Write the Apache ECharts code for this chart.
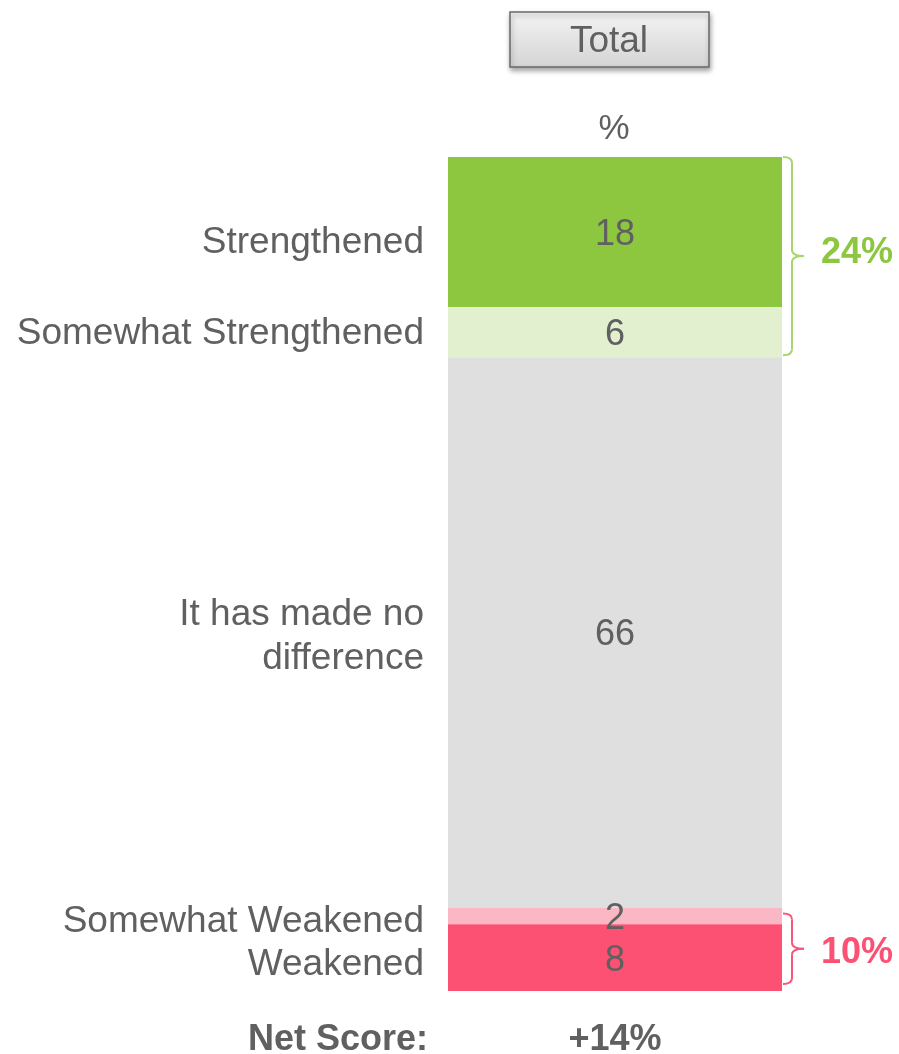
<!DOCTYPE html>
<html>
<head>
<meta charset="utf-8">
<script src="https://cdn.jsdelivr.net/npm/echarts@6/dist/echarts.min.js"></script>
<style>
  html, body { margin: 0; padding: 0; background: #ffffff; }
  #chart { width: 899px; height: 1054px; }
</style>
</head>
<body>
<div id="chart"></div>
<script>
// Survey result: one stacked column, read top to bottom
const categories = ['Total'];
const segmentNames = [
  'Strengthened',
  'Somewhat Strengthened',
  'It has made no\ndifference',
  'Somewhat Weakened',
  'Weakened'
];
const segmentValues = [18, 6, 66, 2, 8];
const positiveGroup = [0, 1];   // indexes summed for the upper bracket
const negativeGroup = [3, 4];   // indexes summed for the lower bracket
const unitLabel = '%';
const netLabel = 'Net Score:';

// Styling
const palette = ['#8DC63F', '#E2F0D0', '#DFDFDF', '#FBB7C4', '#FC5173'];
const nameNudge = [11, 2, 4, 6, 7];   // vertical fine-tuning of row names, px
const textGray = '#606060';
const posColor = '#8DC63F';
const posBracket = '#A9D56F';
const negColor = '#FC5173';
const negBracket = '#F7577A';
const FONT = '"Liberation Sans", Arial, sans-serif';

const chart = echarts.init(document.getElementById('chart'), null, { renderer: 'canvas' });

const valueSeries = segmentNames.map((name, i) => ({
  name: name,
  type: 'bar',
  stack: 'total',
  xAxisIndex: 0,
  yAxisIndex: 0,
  barWidth: '100%',
  data: [segmentValues[i]],
  itemStyle: { color: palette[i] },
  label: {
    show: true,
    position: 'inside',
    formatter: '{c}',
    color: textGray,
    fontFamily: FONT,
    fontSize: 36,
    offset: [0, 3]
  }
}));

// Invisible twin stack that carries the row names to the left of each segment
const nameSeries = segmentNames.map((name, i) => ({
  name: name + ' ',
  type: 'bar',
  stack: 'names',
  xAxisIndex: 1,
  yAxisIndex: 1,
  barWidth: '100%',
  data: [segmentValues[i]],
  itemStyle: { color: 'rgba(0,0,0,0)' },
  label: {
    show: true,
    position: 'left',
    distance: 24,
    offset: [0, nameNudge[i]],
    formatter: () => name,
    color: textGray,
    fontFamily: FONT,
    fontSize: 37,
    lineHeight: 44,
    align: 'right'
  }
}));

chart.setOption({
  animation: false,
  backgroundColor: '#ffffff',
  grid: { left: 448, right: 117, top: 157, bottom: 63, containLabel: false },
  xAxis: [
    { type: 'category', data: categories, show: false },
    { type: 'category', data: categories, show: false }
  ],
  yAxis: [
    { type: 'value', min: 0, max: 100, inverse: true, show: false },
    { type: 'value', min: 0, max: 100, inverse: true, show: false }
  ],
  series: valueSeries.concat(nameSeries)
});

// Brackets and totals placed through the chart's own scales
function sumOf(idx) { return idx.reduce((s, i) => s + segmentValues[i], 0); }
function startOf(i) { let s = 0; for (let k = 0; k < i; k++) s += segmentValues[k]; return s; }

const posTotal = sumOf(positiveGroup);
const negTotal = sumOf(negativeGroup);
const net = posTotal - negTotal;

const gridRect = chart.getModel().getComponent('grid', 0).coordinateSystem.getRect();
const barRight = gridRect.x + gridRect.width;
const barCenterX = gridRect.x + gridRect.width / 2;

function yAt(v) { return chart.convertToPixel({ yAxisIndex: 0 }, v); }

// Curly bracket built from straight segments and quadratic curves
function bracket(y0, y1, x0, x1, x2, r, color) {
  const ym = (y0 + y1) / 2;
  const st = { stroke: color, lineWidth: 2, fill: null };
  return [
    { type: 'bezierCurve', shape: { x1: x0, y1: y0, cpx1: x1, cpy1: y0, x2: x1, y2: y0 + r }, style: st },
    { type: 'line', shape: { x1: x1, y1: y0 + r, x2: x1, y2: ym - r }, style: st },
    { type: 'bezierCurve', shape: { x1: x1, y1: ym - r, cpx1: x1, cpy1: ym, x2: x2, y2: ym }, style: st },
    { type: 'bezierCurve', shape: { x1: x2, y1: ym, cpx1: x1, cpy1: ym, x2: x1, y2: ym + r }, style: st },
    { type: 'line', shape: { x1: x1, y1: ym + r, x2: x1, y2: y1 - r }, style: st },
    { type: 'bezierCurve', shape: { x1: x1, y1: y1 - r, cpx1: x1, cpy1: y1, x2: x0, y2: y1 }, style: st }
  ];
}

const posTop = yAt(startOf(positiveGroup[0]));
const posBottom = yAt(startOf(positiveGroup[0]) + posTotal) - 2;
const negTop = yAt(startOf(negativeGroup[0])) + 6;
const negBottom = yAt(startOf(negativeGroup[0]) + negTotal) - 7;

const bx0 = barRight + 1, bx1 = barRight + 10, bx2 = barRight + 22;

const graphics = [
  // header button
  {
    type: 'rect',
    shape: { x: 510, y: 12, width: 199, height: 55 },
    style: {
      fill: {
        type: 'linear', x: 0, y: 0, x2: 0, y2: 1,
        colorStops: [
          { offset: 0, color: '#F4F4F4' },
          { offset: 1, color: '#D4D4D4' }
        ]
      },
      stroke: '#6A6A6A',
      lineWidth: 1.5,
      shadowBlur: 5,
      shadowOffsetX: 1,
      shadowOffsetY: 3,
      shadowColor: 'rgba(0,0,0,0.35)'
    }
  },
  {
    type: 'text',
    x: 609, y: 42,
    style: {
      text: categories[0],
      fill: textGray,
      font: '37px ' + FONT,
      align: 'center',
      verticalAlign: 'middle'
    }
  },
  {
    type: 'text',
    x: barCenterX - 1, y: 129,
    style: {
      text: unitLabel,
      fill: textGray,
      font: '35px ' + FONT,
      align: 'center',
      verticalAlign: 'middle'
    }
  },
  {
    type: 'text',
    x: barRight + 39, y: (posTop + posBottom) / 2 - 3,
    style: {
      text: posTotal + '%',
      fill: posColor,
      font: 'bold 36px ' + FONT,
      align: 'left',
      verticalAlign: 'middle'
    }
  },
  {
    type: 'text',
    x: barRight + 39, y: (negTop + negBottom) / 2 + 4,
    style: {
      text: negTotal + '%',
      fill: negColor,
      font: 'bold 36px ' + FONT,
      align: 'left',
      verticalAlign: 'middle'
    }
  },
  // net score row
  {
    type: 'text',
    x: 428, y: 1040,
    style: {
      text: netLabel,
      fill: textGray,
      font: 'bold 36px ' + FONT,
      align: 'right',
      verticalAlign: 'middle'
    }
  },
  {
    type: 'text',
    x: barCenterX, y: 1040,
    style: {
      text: (net >= 0 ? '+' : '') + net + '%',
      fill: textGray,
      font: 'bold 36px ' + FONT,
      align: 'center',
      verticalAlign: 'middle'
    }
  }
].concat(
  bracket(posTop, posBottom, bx0, bx1, bx2, 6, posBracket),
  bracket(negTop, negBottom, bx0, bx1, bx2, 6, negBracket)
);

chart.setOption({ graphic: graphics });
</script>
</body>
</html>
